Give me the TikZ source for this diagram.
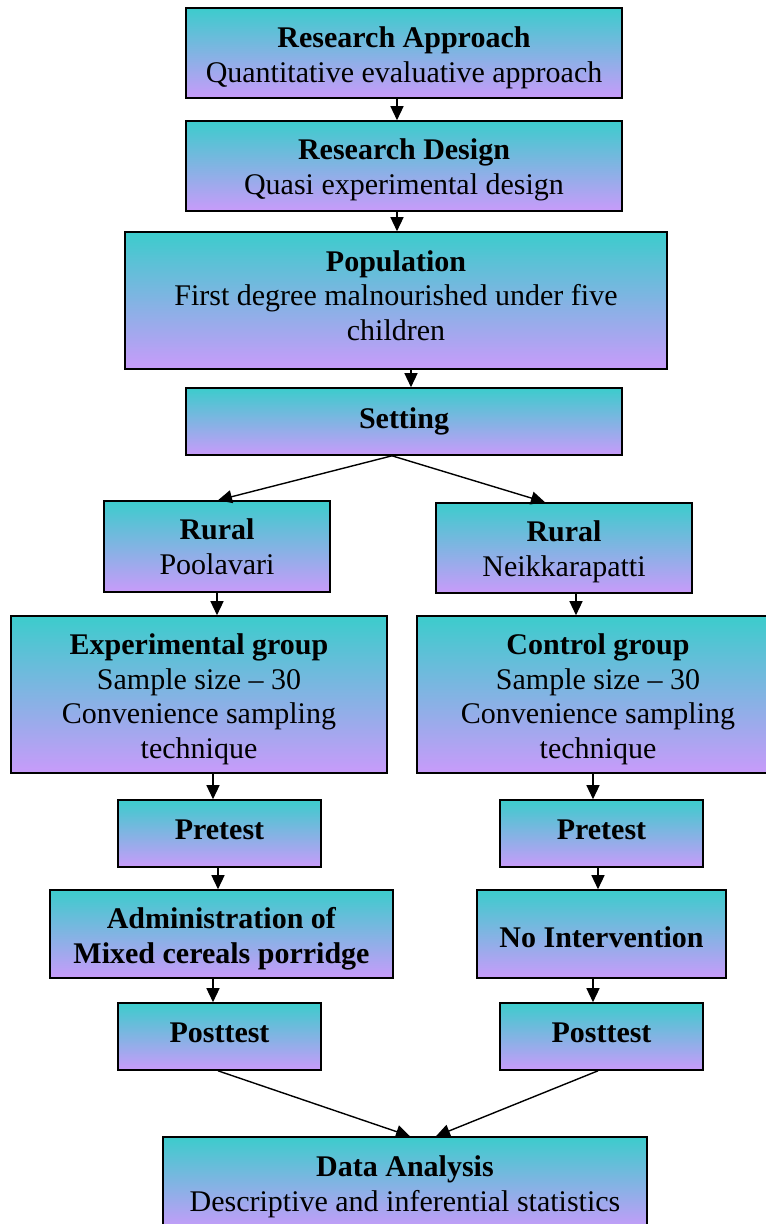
\documentclass[tikz,border=0pt]{standalone}
\usepackage{fontspec}
\setmainfont{Liberation Serif}
\usepackage{tikz}
\usetikzlibrary{arrows.meta,positioning,shadings}

\definecolor{topcyan}{RGB}{60,204,204}
\definecolor{botlilac}{RGB}{200,155,250}
% struts to move the text inside a box
\newcommand{\dnby}[1]{\rule{0pt}{#1}}
\newcommand{\upby}[1]{\rule[-#1]{0pt}{#1}}

\begin{document}
\begin{tikzpicture}[
	blk/.style={draw=black,line width=1.6pt,rectangle,align=center,inner sep=0pt,
		top color=topcyan,bottom color=botlilac,
		font=\fontsize{30}{34.5}\selectfont},
	arr/.style={draw=black,line width=1.4pt,-{Triangle[length=14pt,width=13pt]}}
	]
	\useasboundingbox (0pt,0pt) rectangle (766pt,-1224pt);

	\node[blk,minimum width=436pt,minimum height=90pt] (ra) at (404pt,-53pt){\dnby{30.5pt}\textbf{Research Approach}\\Quantitative evaluative approach};
	\node[blk,minimum width=436pt,minimum height=90pt] (rd) at (404pt,-166pt){\dnby{28.5pt}\textbf{Research Design}\\Quasi experimental design};
	\node[blk,minimum width=542pt,minimum height=137pt] (pop) at (396pt,-300.5pt){\textbf{Population}\\First degree malnourished under five\\children\upby{10pt}};
	\node[blk,minimum width=436pt,minimum height=67pt] (set) at (404pt,-421.5pt){\textbf{Setting}};

	\node[blk,minimum width=226pt,minimum height=91pt] (rl) at (217pt,-546.5pt){\textbf{Rural}\\Poolavari};
	\node[blk,minimum width=256pt,minimum height=90pt] (rr) at (564pt,-548pt){\dnby{28.5pt}\textbf{Rural}\\Neikkarapatti};

	\node[blk,minimum width=376pt,minimum height=157pt] (exp) at (199pt,-694.5pt){\dnby{30.5pt}\textbf{Experimental group}\\Sample size -- 30\\Convenience sampling\\technique};
	\node[blk,minimum width=362pt,minimum height=157pt] (ctl) at (598pt,-694.5pt){\dnby{30.5pt}\textbf{Control group}\\Sample size -- 30\\Convenience sampling\\technique};

	\node[blk,minimum width=203pt,minimum height=67pt] (prel) at (219.5pt,-833.5pt){\textbf{Pretest}\upby{8pt}};
	\node[blk,minimum width=203pt,minimum height=67pt] (prer) at (601.5pt,-833.5pt){\textbf{Pretest}\upby{8pt}};

	\node[blk,minimum width=343pt,minimum height=88pt] (adm) at (221.5pt,-934pt){\dnby{30.5pt}\textbf{Administration of}\\\textbf{Mixed cereals porridge}};
	\node[blk,minimum width=249pt,minimum height=88pt] (noi) at (601.5pt,-934pt){\dnby{26.5pt}\textbf{No Intervention}};

	\node[blk,minimum width=203pt,minimum height=67pt] (postl) at (219.5pt,-1036.5pt){\textbf{Posttest}\upby{8pt}};
	\node[blk,minimum width=203pt,minimum height=67pt] (postr) at (601.5pt,-1036.5pt){\textbf{Posttest}\upby{8pt}};

	\node[blk,minimum width=484pt,minimum height=93pt] (da) at (405pt,-1183.5pt){\dnby{27.5pt}\textbf{Data Analysis}\\Descriptive and inferential statistics};

	% connectors
	\draw[arr] ([xshift=-7pt]ra.south)--([xshift=-7pt]rd.north);
	\draw[arr] ([xshift=-7pt]rd.south)--([xshift=1pt]pop.north);
	\draw[arr] ([xshift=15pt]pop.south)--([xshift=7pt]set.north);
	\draw[arr] ([xshift=-12pt]set.south)--([xshift=1pt]rl.north);
	\draw[arr] ([xshift=-12pt]set.south)--([xshift=-19pt]rr.north);
	\draw[arr] (rl.south)--([xshift=18pt]exp.north);
	\draw[arr] ([xshift=12pt]rr.south)--([xshift=-22pt]ctl.north);
	\draw[arr] ([xshift=14pt]exp.south)--([xshift=-6.5pt]prel.north);
	\draw[arr] ([xshift=-5pt]ctl.south)--([xshift=-8.5pt]prer.north);
	\draw[arr] ([xshift=-1.5pt]prel.south)--([xshift=-3.5pt]adm.north);
	\draw[arr] ([xshift=-3.5pt]prer.south)--([xshift=-3.5pt]noi.north);
	\draw[arr] ([xshift=-8.5pt]adm.south)--([xshift=-6.5pt]postl.north);
	\draw[arr] ([xshift=-8.5pt]noi.south)--([xshift=-8.5pt]postr.north);
	\draw[arr] ([xshift=-1.5pt]postl.south)--([xshift=5pt]da.north);
	\draw[arr] ([xshift=-3.5pt]postr.south)--([xshift=31pt]da.north);
\end{tikzpicture}
\end{document}
